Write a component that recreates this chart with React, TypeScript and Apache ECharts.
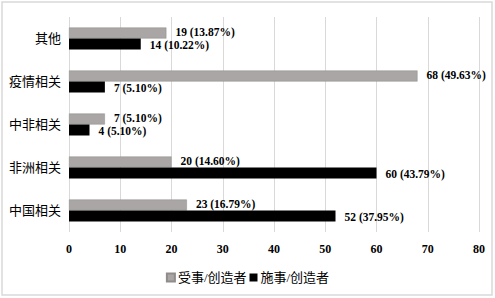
import React, { useEffect, useRef } from "react";
import * as echarts from "echarts";

const categories = ["中国相关", "非洲相关", "中非相关", "疫情相关", "其他"];
const patientName = "受事/创造者";
const agentName = "施事/创造者";
const patientValues = [23, 20, 7, 68, 19];
const patientPct = ["16.79%", "14.60%", "5.10%", "49.63%", "13.87%"];
const agentValues = [52, 60, 4, 7, 14];
const agentPct = ["37.95%", "43.79%", "5.10%", "5.10%", "10.22%"];

const serif = "'Liberation Serif', 'Times New Roman', 'Noto Sans CJK SC', serif";

export default function App() {
  const ref = useRef<HTMLDivElement>(null);
  useEffect(() => {
    if (!ref.current) return;
    const chart = echarts.init(ref.current, undefined, { renderer: "svg" });
    const labelFor = (pcts: string[], dy: number) => ({
      show: true,
      position: "right",
      distance: 9,
      offset: [0, dy],
      color: "#000",
      fontFamily: serif,
      fontSize: 11.5,
      fontWeight: "bold",
      formatter: (p: any) => `${p.value} (${pcts[p.dataIndex]})`,
    });
    chart.setOption({
      animation: false,
      backgroundColor: "#fff",
      graphic: [
        {
          type: "rect",
          shape: { x: 2, y: 2, width: 490, height: 293 },
          style: { fill: "none", stroke: "#d9d9d9", lineWidth: 1.5 },
          silent: true,
        },
      ],
      grid: { left: 69, right: 16, top: 17, bottom: 66, containLabel: false },
      legend: {
        data: [patientName, agentName],
        left: "center",
        top: 266,
        itemWidth: 8,
        itemHeight: 8,
        itemGap: 3,
        icon: "rect",
        textStyle: { fontFamily: serif, fontSize: 13, color: "#000", padding: [0, 0, 0, -2] },
      },
      xAxis: {
        type: "value",
        min: 0,
        max: 80,
        interval: 10,
        axisLine: { show: false },
        axisTick: { show: false },
        splitLine: { show: true, lineStyle: { color: "#d9d9d9", width: 1 } },
        axisLabel: { color: "#000", fontFamily: serif, fontSize: 12, fontWeight: "bold", margin: 11 },
      },
      yAxis: {
        type: "category",
        data: categories,
        axisLine: { show: false },
        axisTick: { show: false },
        axisLabel: { color: "#000", fontFamily: serif, fontSize: 13, margin: 8 },
      },
      series: [
        {
          name: patientName,
          type: "bar",
          data: patientValues,
          barWidth: 11,
          barGap: "0%",
          itemStyle: { color: "#a9a6a5", borderColor: "#8f8c8b", borderWidth: 0.5 },
          label: labelFor(patientPct, -1),
        },
        {
          name: agentName,
          type: "bar",
          data: agentValues,
          barWidth: 11,
          barGap: "0%",
          itemStyle: { color: "#000" },
          label: labelFor(agentPct, 1),
        },
      ],
    });
    return () => chart.dispose();
  }, []);
  return (
    <div
      ref={ref}
      style={{ position: "absolute", left: 0, top: 0, width: 495, height: 298 }}
    />
  );
}
